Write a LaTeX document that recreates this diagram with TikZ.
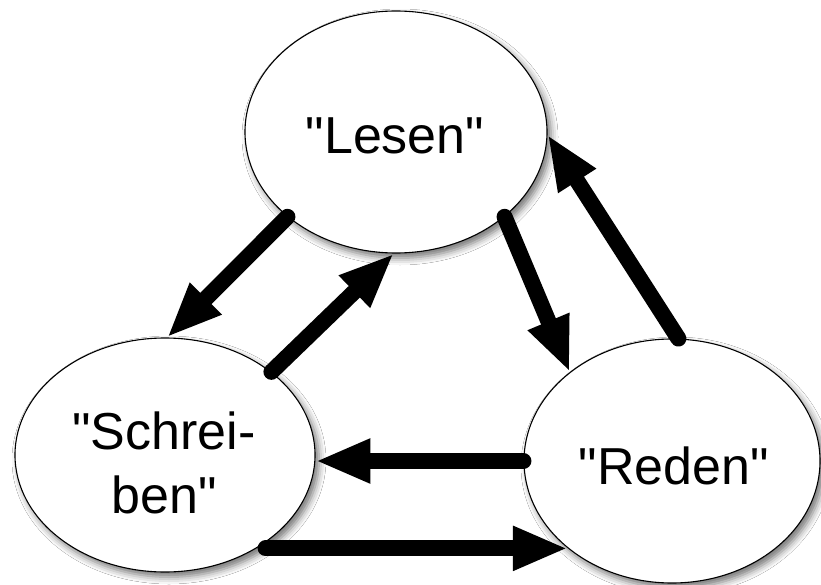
\documentclass[tikz,border=0pt]{standalone}
\usepackage{fontspec}
\setmainfont{Liberation Sans}
\usetikzlibrary{arrows.meta,shapes.geometric,shadows.blur}
\tikzset{
  state/.style={ellipse, draw=black, line width=1.1pt, fill=white, inner sep=0pt,
    blur shadow={shadow xshift=4pt, shadow yshift=-5pt, shadow blur radius=7pt, shadow opacity=55}},
  txt/.style={inner sep=0pt, align=center, font=\fontsize{52}{64}\selectfont},
  conn/.style={line width=16pt, line cap=round, -{Triangle[length=55pt, width=41pt]}}
}
\begin{document}
\begin{tikzpicture}[x=1pt, y=-1pt]
\useasboundingbox[fill=white] (0,0) rectangle (821,585);
\node[state, minimum width=302pt, minimum height=242pt] (Lesen) at (396,132) {};
\node[state, minimum width=300pt, minimum height=234pt] (Schreiben) at (165,455) {};
\node[state, minimum width=296pt, minimum height=244pt] (Reden) at (672,461) {};
\node[txt] (Lesentxt) at (395,136) {\textquotedbl Lesen\textquotedbl};
\node[txt] (Schreibentxt) at (164,463) {\textquotedbl Schrei-\\ben\textquotedbl};
\node[txt] (Redentxt) at (674,466) {\textquotedbl Reden\textquotedbl};
\draw[conn] (Lesen.218) -- (Schreiben.89);
\draw[conn] (Schreiben.38) -- (Lesen.269);
\draw[conn] (Lesen.322) -- (Reden.139);
\draw[conn] (Reden.87.6) -- (Lesen.359);
\draw[conn] (Reden.180) -- (Schreiben.358 |- Reden.180);
\draw[conn] (Schreiben.319 |- Reden.220) -- (Reden.220);
\end{tikzpicture}
\end{document}
